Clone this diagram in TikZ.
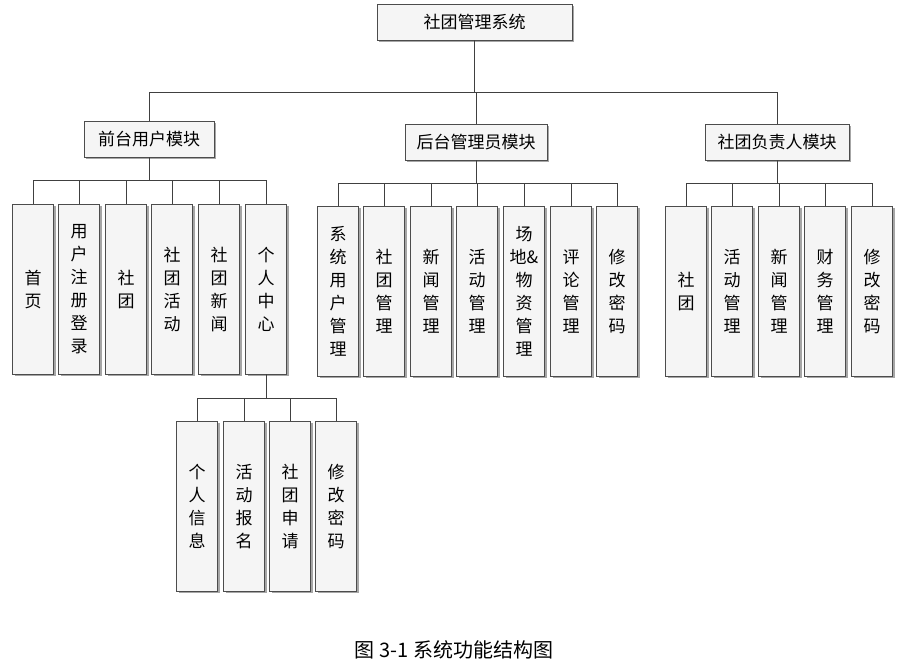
\documentclass[tikz,border=0pt]{standalone}
\usepackage{fontspec}
\newfontfamily\cjk{Noto Sans CJK SC}
\usetikzlibrary{positioning,shadows}
\tikzset{
  box/.style={draw=black!70,fill=black!4,font=\cjk\fontsize{17}{20}\selectfont,
    drop shadow={shadow xshift=2pt,shadow yshift=-2pt,fill=black!35,opacity=1},
    inner sep=0pt,anchor=north},
  hbox/.style={box,minimum height=36pt},
  vbox/.style={box,minimum width=41pt,minimum height=170pt,align=center,
    font=\cjk\fontsize{17}{23}\selectfont},
  link/.style={draw=black!75,line width=0.5pt}
}
\begin{document}
\begin{tikzpicture}[x=1pt,y=-1pt]
\useasboundingbox (0,0) rectangle (911,668);
%top
\node[hbox,minimum width=195pt] (root) at (474.5,4) {社团管理系统};
\node[hbox,minimum width=130pt] (front) at (149,121) {前台用户模块};
\node[hbox,minimum width=142pt] (back) at (476,124) {后台管理员模块};
\node[hbox,minimum width=144pt] (lead) at (777,124) {社团负责人模块};
\draw[link] (root.south) -- (474.5,92);
\draw[link] (front.north) |- (lead.north |- 0,92) -- (lead.north);
\draw[link] (back.north) -- (back.north |- 0,92);
%front children
\foreach \x/\t/\n in {33/首\\页/f1,79/用\\户\\注\\册\\登\\录/f2,126/社\\团/f3,
  172/社\\团\\活\\动/f4,219/社\\团\\新\\闻/f5,266/个\\人\\中\\心/f6}{
  \node[vbox] (\n) at (\x,204) {\t};
  \draw[link] (\n.north) -- (\x,180);
}
\draw[link] (front.south) -- (149,180);
\draw[link] (f1.north |- 0,180) -- (f6.north |- 0,180);
%back children
\foreach \x/\t/\n in {338/系\\统\\用\\户\\管\\理/b1,384/社\\团\\管\\理/b2,431/新\\闻\\管\\理/b3,
  477/活\\动\\管\\理/b4,524/场\\地\&\\物\\资\\管\\理/b5,571/评\\论\\管\\理/b6,617/修\\改\\密\\码/b7}{
  \node[vbox] (\n) at (\x,206) {\t};
  \draw[link] (\n.north) -- (\x,183);
}
\draw[link] (back.south) -- (476,183);
\draw[link] (b1.north |- 0,183) -- (b7.north |- 0,183);
%lead children
\foreach \x/\t/\n in {686/社\\团/l1,732/活\\动\\管\\理/l2,779/新\\闻\\管\\理/l3,
  825/财\\务\\管\\理/l4,872/修\\改\\密\\码/l5}{
  \node[vbox] (\n) at (\x,206) {\t};
  \draw[link] (\n.north) -- (\x,183);
}
\draw[link] (lead.south) -- (777,183);
\draw[link] (l1.north |- 0,183) -- (l5.north |- 0,183);
%personal center children
\foreach \x/\t/\n in {197/个\\人\\信\\息/p1,244/活\\动\\报\\名/p2,290/社\\团\\申\\请/p3,336/修\\改\\密\\码/p4}{
  \node[vbox] (\n) at (\x,421) {\t};
  \draw[link] (\n.north) -- (\x,398);
}
\draw[link] (f6.south) -- (266,398);
\draw[link] (p1.north |- 0,398) -- (p4.north |- 0,398);
\node[font=\cjk\fontsize{20}{23}\selectfont] (cap) at (454,650) {图 3-1 系统功能结构图};
\end{tikzpicture}
\end{document}
